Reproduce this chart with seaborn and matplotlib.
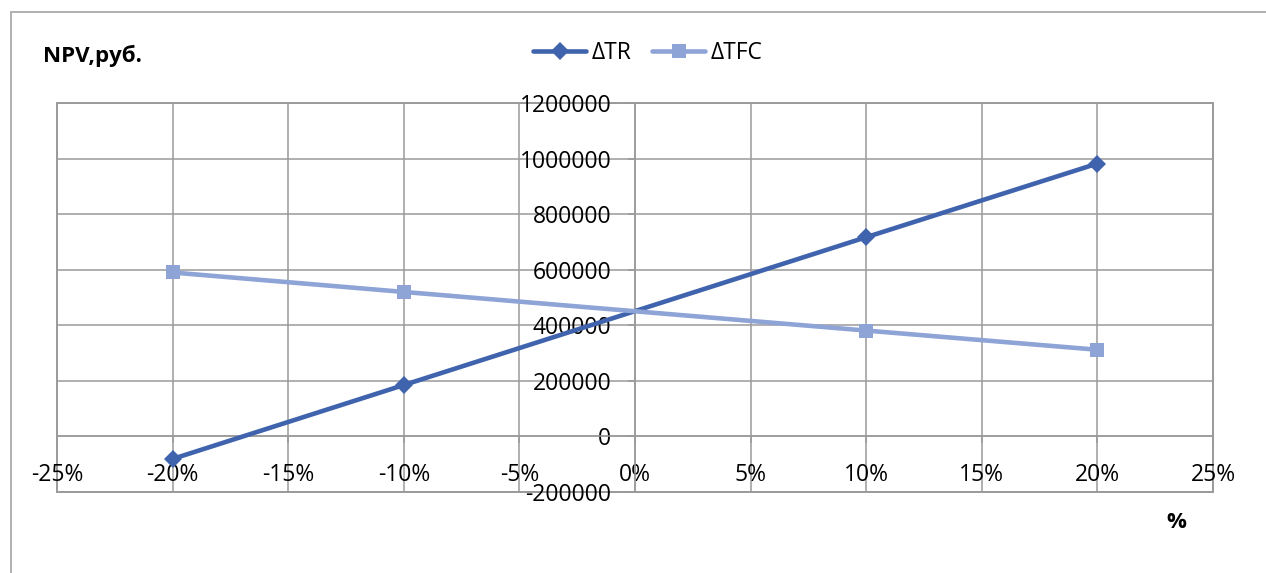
import numpy as np
import pandas as pd
import seaborn as sns
import matplotlib
matplotlib.use("Agg")
import matplotlib.pyplot as plt
from matplotlib.ticker import PercentFormatter, MultipleLocator, FuncFormatter
from matplotlib.lines import Line2D
from matplotlib.patches import Rectangle

# Sensitivity of NPV to changes in revenue (ΔTR) and fixed costs (ΔTFC)
change = [-0.20, -0.10, 0.10, 0.20]
npv_tr = [-81000, 185000, 717000, 982000]
npv_tfc = [590000, 520000, 381000, 312000]
series_names = ["ΔTR", "ΔTFC"]
series_colors = ["#3F63AD", "#8EA4D6"]
series_markers = ["D", "s"]

df = pd.concat([
    pd.DataFrame({"change": change, "npv": npv_tr, "series": series_names[0]}),
    pd.DataFrame({"change": change, "npv": npv_tfc, "series": series_names[1]}),
], ignore_index=True)

sns.set_theme(style="white")
plt.rcParams["font.family"] = ["Open Sans", "DejaVu Sans"]
plt.rcParams["axes.unicode_minus"] = False
plt.rcParams["text.color"] = "black"

W, H = 1266, 573
fig = plt.figure(figsize=(W / 100, H / 100), dpi=100)
ax = fig.add_axes([57 / W, 1 - 492 / H, (1213 - 57) / W, (492 - 103) / H])

grid_c = "#9a9a9a"
marker_sizes = [9.5, 10.5]

sns.lineplot(data=df, x="change", y="npv", hue="series", style="series",
             palette=dict(zip(series_names, series_colors)),
             markers=dict(zip(series_names, series_markers)),
             dashes=False, linewidth=3.3, markersize=10, markeredgewidth=0,
             ax=ax, legend=False, zorder=5)
for ln, ms in zip(ax.lines, marker_sizes):
    ln.set_markersize(ms)

ax.set_xlim(-0.25, 0.25)
ax.set_ylim(-200000, 1200000)
ax.xaxis.set_major_locator(MultipleLocator(0.05))
ax.yaxis.set_major_locator(MultipleLocator(200000))
ax.xaxis.set_major_formatter(PercentFormatter(xmax=1, decimals=0))
ax.yaxis.set_major_formatter(FuncFormatter(lambda v, p: f"{v:.0f}"))

ax.grid(True, color=grid_c, linewidth=1.1)
ax.set_axisbelow(True)

# axes crossing at zero
for side in ["top", "right"]:
    ax.spines[side].set_visible(False)
ax.spines["left"].set_position(("data", 0))
ax.spines["bottom"].set_position(("data", 0))
for side in ["left", "bottom"]:
    ax.spines[side].set_color(grid_c)
    ax.spines[side].set_linewidth(1.1)
ax.patch.set_edgecolor(grid_c)
ax.patch.set_linewidth(1.4)

ax.tick_params(axis="both", which="major", labelsize=16.5, labelcolor="black",
               color=grid_c, length=5, width=1.1, direction="out",
               left=True, bottom=True)
ax.tick_params(axis="y", pad=12)
ax.tick_params(axis="x", pad=14)
ax.set_xlabel("")
ax.set_ylabel("")

# legend
handles = [Line2D([0], [0], color=c, marker=m, linewidth=3.3,
                  markersize=ms, markeredgewidth=0)
           for c, m, ms in zip(series_colors, series_markers, marker_sizes)]
fig.legend(handles, series_names, loc="center", ncol=2, frameon=False,
           bbox_to_anchor=(648 / W, 1 - 53 / H), fontsize=16.5,
           handlelength=2.3, handletextpad=0.25, columnspacing=0.9)

# axis titles
fig.text(43 / W, 1 - 56 / H, "NPV,руб.", fontsize=16, fontweight="bold",
         ha="left", va="center")
fig.text(1176 / W, 1 - 522 / H, "%", fontsize=16, fontweight="bold",
         ha="center", va="center")

# chart frame
fig.add_artist(Rectangle((11 / W, -0.1), 1.2, (1 - 12 / H) + 0.1,
                         transform=fig.transFigure, fill=False,
                         edgecolor="#b0b0b0", linewidth=1.4))

fig.savefig("out.png", dpi=100, facecolor="white")
